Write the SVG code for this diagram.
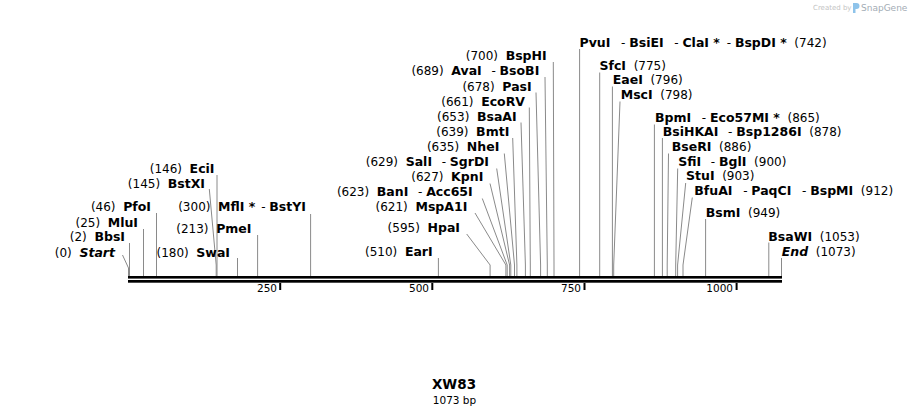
<svg xmlns="http://www.w3.org/2000/svg" width="910" height="415" viewBox="0 0 910 415">
<style>
text{font-family:"DejaVu Sans",Verdana,sans-serif;font-size:12px;fill:#000}
.b{font-weight:bold;font-size:12.5px}
.i{font-style:italic}
.e{text-anchor:end}
.ln{stroke:#8a8a8a;stroke-width:1;fill:none}
.rl{font-size:10.5px;text-anchor:end}
.bar{fill:#000}
</style>
<rect width="910" height="415" fill="#fff"/>
<g id="watermark">
<text x="813" y="10" style="font-size:7px;fill:#c4c4c4">Created by</text>
<path d="M853,3 h3.5 a3,3 0 0 1 0,6 h-1 v4 h-2.5 z" fill="#8ec3ea"/>
<text x="861" y="11" style="font-size:9px;fill:#a3acb5">SnapGene</text>
</g>
<g id="ruler">
<rect class="bar" x="128" y="276" width="654" height="2.6"/>
<rect class="bar" x="128" y="280" width="654" height="2.7"/>
<rect class="bar" x="279.2" y="283" width="2" height="7"/>
<rect class="bar" x="431.3" y="283" width="2" height="7"/>
<rect class="bar" x="583.5" y="283" width="2" height="7"/>
<rect class="bar" x="735.6" y="283" width="2" height="7"/>
<text class="rl" x="277" y="292">250</text>
<text class="rl" x="429" y="292">500</text>
<text class="rl" x="581" y="292">750</text>
<text class="rl" x="733" y="292">1000</text>
</g>
<g id="connectors">
<polyline class="ln" points="122.5,255 128.5,268 128.5,276"/>
<line class="ln" x1="129.5" y1="243" x2="129.5" y2="276"/>
<line class="ln" x1="143.5" y1="229" x2="143.5" y2="276"/>
<line class="ln" x1="156.5" y1="213" x2="156.5" y2="276"/>
<polyline class="ln" points="209.3,189 216.2,265 216.2,276"/>
<line class="ln" x1="217" y1="175" x2="217" y2="276"/>
<line class="ln" x1="237.5" y1="258" x2="237.5" y2="276"/>
<line class="ln" x1="257.6" y1="235" x2="257.6" y2="276"/>
<line class="ln" x1="310.6" y1="214" x2="310.6" y2="276"/>
<line class="ln" x1="438.4" y1="258" x2="438.4" y2="276"/>
<polyline class="ln" points="466.7,234 490.1,265 490.1,276"/>
<polyline class="ln" points="475,213 505.9,265 505.9,276"/>
<polyline class="ln" points="482.3,198.5 507.2,265 507.2,276"/>
<polyline class="ln" points="490,183.5 509.6,265 509.6,276"/>
<polyline class="ln" points="496.7,168.5 510.8,265 510.8,276"/>
<polyline class="ln" points="504.3,153.5 514.5,265 514.5,276"/>
<polyline class="ln" points="512.7,138 516.9,265 516.9,276"/>
<polyline class="ln" points="521,122.5 525.4,265 525.4,276"/>
<polyline class="ln" points="529.3,107.5 530.3,265 530.3,276"/>
<polyline class="ln" points="536,92.5 540.6,265 540.6,276"/>
<polyline class="ln" points="545,77 547.3,265 547.3,276"/>
<polyline class="ln" points="553.3,62 554,265 554,276"/>
<line class="ln" x1="579.6" y1="49" x2="579.6" y2="276"/>
<line class="ln" x1="599.7" y1="72.5" x2="599.7" y2="276"/>
<line class="ln" x1="612.4" y1="86.5" x2="612.4" y2="276"/>
<polyline class="ln" points="620,101.5 613.7,265 613.7,276"/>
<line class="ln" x1="654.4" y1="124.5" x2="654.4" y2="276"/>
<line class="ln" x1="662.4" y1="138" x2="662.4" y2="276"/>
<polyline class="ln" points="668.5,153.5 667.2,265 667.2,276"/>
<polyline class="ln" points="677.7,168.5 675.7,265 675.7,276"/>
<polyline class="ln" points="685.7,183 677.6,265 677.6,276"/>
<polyline class="ln" points="692.3,197.5 683,265 683,276"/>
<line class="ln" x1="705.6" y1="219" x2="705.6" y2="276"/>
<line class="ln" x1="768.8" y1="242.5" x2="768.8" y2="276"/>
<line class="ln" x1="781.5" y1="258" x2="781.5" y2="276"/>
</g>
<g id="n-start"><text class="e" x="115" y="256.5" xml:space="preserve">(0)  <tspan class="b i">Start</tspan></text></g>
<g id="n-bbsi"><text class="e" x="125" y="240.5" xml:space="preserve">(2)  <tspan class="b">BbsI</tspan></text></g>
<g id="n-mlui"><text class="e" x="138" y="226.5" xml:space="preserve">(25)  <tspan class="b">MluI</tspan></text></g>
<g id="n-pfoi"><text class="e" x="151" y="211" xml:space="preserve">(46)  <tspan class="b">PfoI</tspan></text></g>
<g id="n-bstxi"><text class="e" x="205" y="187.5" xml:space="preserve">(145)  <tspan class="b">BstXI</tspan></text></g>
<g id="n-ecii"><text class="e" x="214.5" y="173" xml:space="preserve">(146)  <tspan class="b">EciI</tspan></text></g>
<g id="n-swai"><text class="e" x="230" y="256.5" xml:space="preserve">(180)  <tspan class="b">SwaI</tspan></text></g>
<g id="n-pmei"><text class="e" x="251.5" y="233" xml:space="preserve">(213)  <tspan class="b">PmeI</tspan></text></g>
<g id="n-mfli"><text class="e" x="306" y="211" xml:space="preserve">(300)  <tspan class="b">MflI *</tspan> <tspan dx="2">-</tspan> <tspan class="b">BstYI</tspan></text></g>
<g id="n-eari"><text class="e" x="432.7" y="256" xml:space="preserve">(510)  <tspan class="b">EarI</tspan></text></g>
<g id="n-hpai"><text class="e" x="460" y="232" xml:space="preserve">(595)  <tspan class="b">HpaI</tspan></text></g>
<g id="n-mspa1i"><text class="e" x="467.3" y="211" xml:space="preserve">(621)  <tspan class="b">MspA1I</tspan></text></g>
<g id="n-bani"><text class="e" x="472.7" y="196" xml:space="preserve">(623)  <tspan class="b">BanI</tspan>  <tspan dx="2">-</tspan> <tspan class="b">Acc65I</tspan></text></g>
<g id="n-kpni"><text class="e" x="483.3" y="181" xml:space="preserve">(627)  <tspan class="b">KpnI</tspan></text></g>
<g id="n-sali"><text class="e" x="489" y="166" xml:space="preserve">(629)  <tspan class="b">SalI</tspan>  <tspan dx="2">-</tspan> <tspan class="b">SgrDI</tspan></text></g>
<g id="n-nhei"><text class="e" x="499.3" y="151" xml:space="preserve">(635)  <tspan class="b">NheI</tspan></text></g>
<g id="n-bmti"><text class="e" x="509.3" y="136" xml:space="preserve">(639)  <tspan class="b">BmtI</tspan></text></g>
<g id="n-bsaai"><text class="e" x="516.7" y="120.5" xml:space="preserve">(653)  <tspan class="b">BsaAI</tspan></text></g>
<g id="n-ecorv"><text class="e" x="525" y="105.5" xml:space="preserve">(661)  <tspan class="b">EcoRV</tspan></text></g>
<g id="n-pasi"><text class="e" x="531.7" y="90.5" xml:space="preserve">(678)  <tspan class="b">PasI</tspan></text></g>
<g id="n-avai"><text class="e" x="539.3" y="75" xml:space="preserve">(689)  <tspan class="b">AvaI</tspan>  <tspan dx="2">-</tspan> <tspan class="b">BsoBI</tspan></text></g>
<g id="n-bsphi"><text class="e" x="546.7" y="60" xml:space="preserve">(700)  <tspan class="b">BspHI</tspan></text></g>
<g id="n-pvui"><text x="579.5" y="46.5" xml:space="preserve"><tspan class="b">PvuI</tspan>  <tspan dx="3">-</tspan> <tspan class="b">BsiEI</tspan>  <tspan dx="3">-</tspan> <tspan class="b">ClaI *</tspan> <tspan dx="3">-</tspan> <tspan class="b">BspDI *</tspan>  (742)</text></g>
<g id="n-sfci"><text x="599.5" y="70" xml:space="preserve"><tspan class="b">SfcI</tspan>  (775)</text></g>
<g id="n-eaei"><text x="612.7" y="84" xml:space="preserve"><tspan class="b">EaeI</tspan>  (796)</text></g>
<g id="n-msci"><text x="620.7" y="98.5" xml:space="preserve"><tspan class="b">MscI</tspan>  (798)</text></g>
<g id="n-bpmi"><text x="655" y="121.5" xml:space="preserve"><tspan class="b">BpmI</tspan>  <tspan dx="3">-</tspan> <tspan class="b">Eco57MI *</tspan>  (865)</text></g>
<g id="n-bsihkai"><text x="662.7" y="135.5" xml:space="preserve"><tspan class="b">BsiHKAI</tspan>  <tspan dx="2">-</tspan> <tspan class="b">Bsp1286I</tspan>  (878)</text></g>
<g id="n-bseri"><text x="671.7" y="150.5" xml:space="preserve"><tspan class="b">BseRI</tspan>  (886)</text></g>
<g id="n-sfii"><text x="678.3" y="165.5" xml:space="preserve"><tspan class="b">SfiI</tspan>  <tspan dx="2">-</tspan> <tspan class="b">BglI</tspan>  (900)</text></g>
<g id="n-stui"><text x="686" y="180" xml:space="preserve"><tspan class="b">StuI</tspan>  (903)</text></g>
<g id="n-bfuai"><text x="694.3" y="195" xml:space="preserve"><tspan class="b">BfuAI</tspan>  <tspan dx="3">-</tspan> <tspan class="b">PaqCI</tspan>  <tspan dx="3">-</tspan> <tspan class="b">BspMI</tspan>  (912)</text></g>
<g id="n-bsmi"><text x="705.7" y="217" xml:space="preserve"><tspan class="b">BsmI</tspan>  (949)</text></g>
<g id="n-bsawi"><text x="768.3" y="240.5" xml:space="preserve"><tspan class="b">BsaWI</tspan>  (1053)</text></g>
<g id="n-end"><text x="781.7" y="255.5" xml:space="preserve"><tspan class="b i">End</tspan>  (1073)</text></g>
<g id="title">
<text x="454" y="389" style="font-size:13.5px;font-weight:bold;text-anchor:middle">XW83</text>
<text x="454.5" y="404" style="font-size:10.5px;text-anchor:middle">1073 bp</text>
</g>
</svg>
